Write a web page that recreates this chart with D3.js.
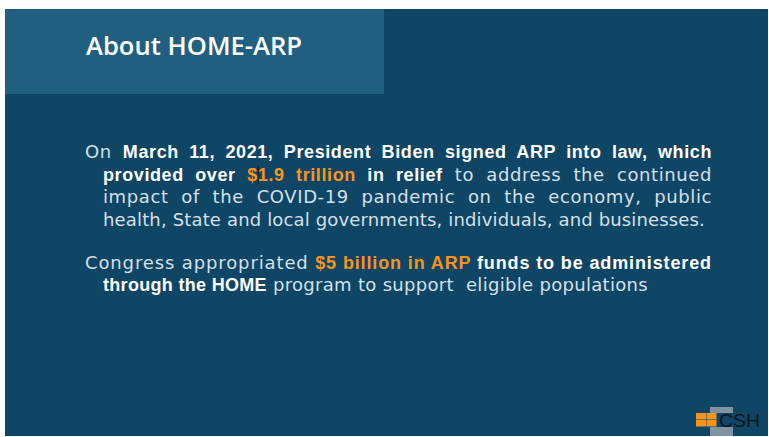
<!DOCTYPE html>
<html>
<head>
<meta charset="utf-8">
<script src="https://cdn.jsdelivr.net/npm/d3@7"></script>
<style>
  body { margin: 0; background: #ffffff; }
  svg { display: block; }
</style>
</head>
<body>
<script>
// slide text, kept as small arrays of [text, style] runs per line
var titleText = "About HOME-ARP";

var para1 = [
    [["On ", "r"], ["March 11, 2021, President Biden signed ARP into law, which", "b"]],
    [["provided over ", "b"], ["$1.9 trillion", "o"], [" in relief", "b"], [" to address the continued", "r"]],
    [["impact of the COVID-19 pandemic on the economy, public", "r"]],
    [["health, State and local governments, individuals, and businesses.", "r"]]
];

var para2 = [
    [["Congress appropriated ", "r"], ["$5 billion in ARP", "o"], [" funds to be administered", "b"]],
    [["through the HOME", "b"], [" program to support  eligible populations", "r"]]
];

var logoText = "CSH";

var W = 769, H = 437;

var svg = d3.select("body")
    .append("svg")
    .attr("width", W)
    .attr("height", H);

//slide background
svg.append("rect")
    .attr("x", 5)
    .attr("y", 9)
    .attr("width", 763)
    .attr("height", 427)
    .style("fill", "#0f4565");

//title box
svg.append("rect")
    .attr("x", 5)
    .attr("y", 9)
    .attr("width", 379)
    .attr("height", 85)
    .style("fill", "#215f80");

svg.append("text")
    .attr("x", 86)
    .attr("y", 55)
    .attr("textLength", 216)
    .attr("lengthAdjust", "spacingAndGlyphs")
    .style("font-family", "'Open Sans', sans-serif")
    .style("font-weight", 600)
    .style("font-size", "26px")
    .style("fill", "#ffffff")
    .text(titleText);

//line layout: start x, end x, baseline, justified or not
var lines = [
    {runs: para1[0], x0: 85, x1: 712, y: 158, just: true},
    {runs: para1[1], x0: 103, x1: 712, y: 181, just: true},
    {runs: para1[2], x0: 103, x1: 712, y: 203, just: true},
    {runs: para1[3], x0: 103, x1: 705, y: 226, just: false},
    {runs: para2[0], x0: 85, x1: 712, y: 269, just: false},
    {runs: para2[1], x0: 103, x1: 648, y: 291, just: false}
];

var styles = {
    r: {weight: 400, fill: "#d5e0e8", family: "'DejaVu Sans', sans-serif"},
    b: {weight: 700, fill: "#ffffff", family: "'Liberation Sans', Arial, sans-serif"},
    o: {weight: 700, fill: "#f7941d", family: "'Liberation Sans', Arial, sans-serif"}
};

var body = svg.append("g").attr("class", "body");
var textNodes = [];

lines.forEach(function(line) {
    var t = body.append("text")
        .attr("x", line.x0)
        .attr("y", line.y)
        .style("font-size", "18px")
        .style("white-space", "pre");

    t.selectAll("tspan")
        .data(line.runs)
        .enter()
        .append("tspan")
        .style("font-family", function(d) { return styles[d[1]].family; })
        .style("font-weight", function(d) { return styles[d[1]].weight; })
        .style("fill", function(d) { return styles[d[1]].fill; })
        .text(function(d) { return d[0]; });

    var full = line.runs.map(function(d) { return d[0]; }).join("");
    var target = line.x1 - line.x0;
    var chars = full.length;

    if (line.just) {
        //a bit of letter spacing, then stretch the word gaps
        t.style("letter-spacing", "0.6px");
        var w2 = t.node().getComputedTextLength();
        var gaps = (full.match(/ /g) || []).length;
        t.style("word-spacing", Math.max(0, (target - w2) / gaps) + "px");
    } else {
        var natural = t.node().getComputedTextLength();
        t.style("letter-spacing", ((target - natural) / chars) + "px");
    }
    textNodes.push(t.node());
});

//text cursor mark right after the dollar sign of line 2
var dollarEnd = textNodes[1].getEndPositionOfChar(14).x;
svg.append("line")
    .attr("x1", dollarEnd + 0.5)
    .attr("x2", dollarEnd + 0.5)
    .attr("y1", 166)
    .attr("y2", 184)
    .style("stroke", "#1a1a1a")
    .style("stroke-width", 1);

//CSH logo, bottom right
var logo = svg.append("g").attr("class", "logo");

logo.append("rect")
    .attr("x", 710).attr("y", 407)
    .attr("width", 23).attr("height", 6)
    .style("fill", "#7f93a3");

logo.append("rect")
    .attr("x", 710).attr("y", 427)
    .attr("width", 23).attr("height", 9)
    .style("fill", "#7f93a3");

var cells = d3.range(4);
logo.selectAll(".cell")
    .data(cells)
    .enter()
    .append("rect")
    .attr("class", "cell")
    .attr("x", function(d) { return 696 + (d % 2) * 10.5; })
    .attr("y", function(d) { return 413 + Math.floor(d / 2) * 7; })
    .attr("width", 10)
    .attr("height", 6.5)
    .style("fill", "#f7941d");

logo.append("text")
    .attr("x", 719)
    .attr("y", 427)
    .attr("textLength", 41)
    .attr("lengthAdjust", "spacingAndGlyphs")
    .style("font-family", "'Liberation Sans', sans-serif")
    .style("font-size", "19px")
    .style("fill", "#10151a")
    .text(logoText);
</script>
</body>
</html>
